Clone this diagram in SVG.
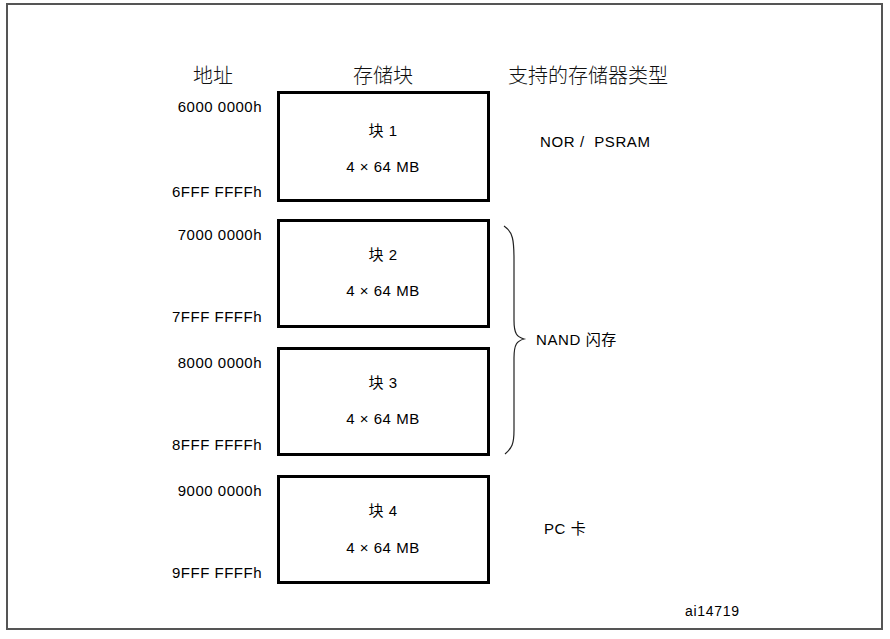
<svg xmlns="http://www.w3.org/2000/svg" width="890" height="639" viewBox="0 0 890 639">
<style>
.blk{fill:#fff;stroke:#000;stroke-width:3}
text{font-family:"Liberation Sans","Noto Sans CJK SC",sans-serif;fill:#000}
.hd{font-size:20px;font-weight:300;text-anchor:middle;fill:#111}
.ad{font-size:15px;letter-spacing:0.5px;text-anchor:end}
.lb{font-size:15px;letter-spacing:0.5px;text-anchor:middle}
.ty{font-size:15px;letter-spacing:0.6px}
</style>
<rect x="0" y="0" width="890" height="639" fill="#fff"/>
<rect x="7" y="4" width="875" height="625" fill="none" stroke="#555" stroke-width="2"/>
<g id="headers">
<text class="hd" x="213" y="83">地址</text>
<text class="hd" x="383" y="83">存储块</text>
<text class="hd" x="588" y="83">支持的存储器类型</text>
</g>
<g id="block1">
<rect class="blk" x="278.5" y="92.5" width="210" height="108"/>
<text class="lb" x="383" y="136">块 1</text>
<text class="lb" x="383" y="172">4 × 64 MB</text>
<text class="ad" x="262" y="112">6000 0000h</text>
<text class="ad" x="262" y="197">6FFF FFFFh</text>
</g>
<g id="block2">
<rect class="blk" x="278.5" y="220.5" width="210" height="106"/>
<text class="lb" x="383" y="260">块 2</text>
<text class="lb" x="383" y="296">4 × 64 MB</text>
<text class="ad" x="262" y="240">7000 0000h</text>
<text class="ad" x="262" y="322">7FFF FFFFh</text>
</g>
<g id="block3">
<rect class="blk" x="278.5" y="348.5" width="210" height="106"/>
<text class="lb" x="383" y="388">块 3</text>
<text class="lb" x="383" y="424">4 × 64 MB</text>
<text class="ad" x="262" y="368">8000 0000h</text>
<text class="ad" x="262" y="450">8FFF FFFFh</text>
</g>
<g id="block4">
<rect class="blk" x="278.5" y="476.5" width="210" height="106"/>
<text class="lb" x="383" y="516">块 4</text>
<text class="lb" x="383" y="553">4 × 64 MB</text>
<text class="ad" x="262" y="496">9000 0000h</text>
<text class="ad" x="262" y="578">9FFF FFFFh</text>
</g>
<g id="types">
<text class="ty" x="540" y="147" xml:space="preserve">NOR /  PSRAM</text>
<text class="ty" x="536" y="345">NAND 闪存</text>
<text class="ty" x="544" y="534">PC 卡</text>
<text x="685" y="616" style="font-size:14px;letter-spacing:0.7px">ai14719</text>
</g>
<g id="connectors">
<path d="M504,226 C513,232 514,240 514,260 L514,320 C514,334 517,337 524,339 C517,341 514,344 514,358 L514,430 C514,444 512,448 505,454" fill="none" stroke="#222" stroke-width="1.2"/>
</g>
</svg>
